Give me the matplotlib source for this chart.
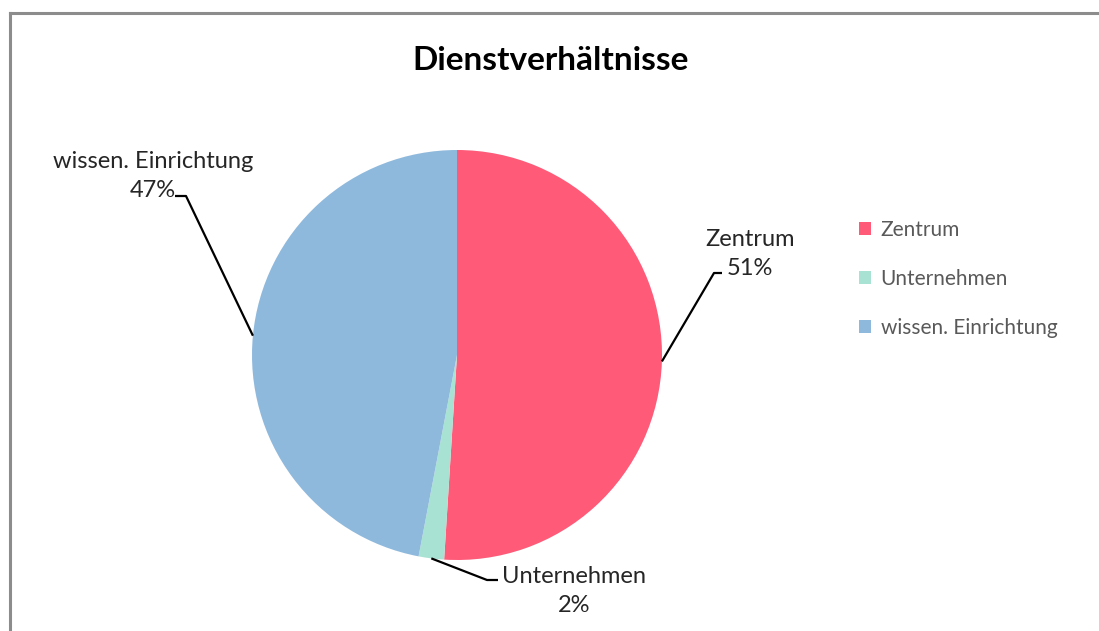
import matplotlib.pyplot as plt
import numpy as np

# Anteile der Dienstverhältnisse (Prozent)
kategorien = ['Zentrum', 'Unternehmen', 'wissen. Einrichtung']
anteile = [51, 2, 47]
farben = ['#FF5A78', '#A8E2D2', '#8FB9DC']

W, H = 1099, 631
cx, cy, r = 457, 355, 205  # Kreismitte und Radius in Pixeln

plt.rcParams['font.family'] = ['Lato', 'DejaVu Sans']

fig = plt.figure(figsize=(W / 100, H / 100), dpi=100)

# Rahmen: leere Achse, nur linke und obere Kante sichtbar
rahmen = fig.add_axes([10 / W, -0.05, 1.0, 1 - 13 / H + 0.05])
rahmen.set_xticks([])
rahmen.set_yticks([])
rahmen.patch.set_visible(False)
for seite in ['right', 'bottom']:
    rahmen.spines[seite].set_visible(False)
for seite in ['left', 'top']:
    rahmen.spines[seite].set_color('#8C8C8C')
    rahmen.spines[seite].set_linewidth(2.2)

ax = fig.add_axes([0, 0, 1, 1])
wedges, _ = ax.pie(anteile, colors=farben, startangle=90, counterclock=False,
                   radius=1, center=(0, 0),
                   wedgeprops=dict(linewidth=0))
ax.set_xlim(-cx / r, (W - cx) / r)
ax.set_ylim(-(H - cy) / r, cy / r)
ax.set_aspect('equal')
ax.axis('off')

# Beschriftungen mit Führungslinien (Knickpunkt, Linienende, Textmitte in Pixeln)
beschriftung = {
    'Zentrum': ((714, 273), (722, 273), (750, 254)),
    'Unternehmen': ((487, 580), (498, 580), (574, 591)),
    'wissen. Einrichtung': ((186, 196), (175, 196), (153, 176)),
}

def px(x, y):
    return (x - cx) / r, (cy - y) / r

for w, name, wert in zip(wedges, kategorien, anteile):
    mitte = np.deg2rad((w.theta1 + w.theta2) / 2)
    ex, ey = np.cos(mitte), np.sin(mitte)
    knick, ende, txt = beschriftung[name]
    kx, ky = px(*knick)
    hx, hy = px(*ende)
    ax.plot([ex, kx, hx], [ey, ky, hy], color='black', linewidth=1.6,
            solid_capstyle='butt')
    tx, ty = px(*txt)
    ax.text(tx, ty, f'{name}\n{wert}%', ha='center', va='center',
            fontsize=17, color='#262626', linespacing=1.5)

fig.text(551 / W, 1 - 60 / H, 'Dienstverhältnisse', ha='center', va='center',
         fontsize=24, fontweight='bold', color='black')

leg = ax.legend(wedges, kategorien, loc='upper left',
                bbox_to_anchor=(840 / W, 1 - 201 / H),
                bbox_transform=fig.transFigure, frameon=False,
                fontsize=15, labelspacing=1.4, handlelength=0.6,
                handleheight=0.6, handletextpad=0.45)
for t in leg.get_texts():
    t.set_color('#595959')

fig.savefig('out.png', dpi=100)
